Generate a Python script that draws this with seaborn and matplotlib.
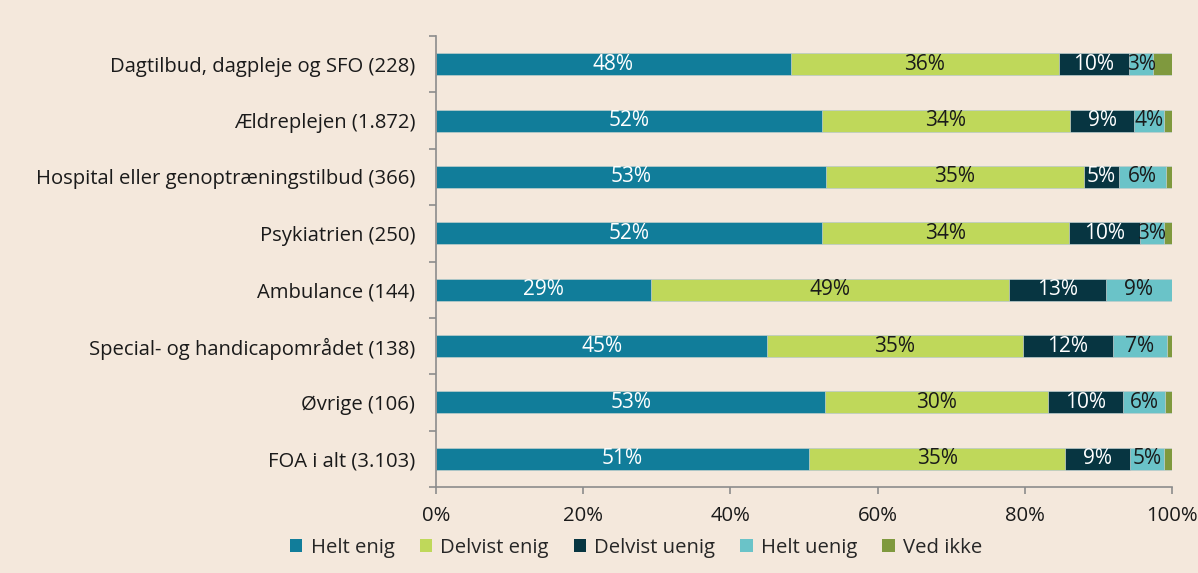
import numpy as np
import pandas as pd
import matplotlib
matplotlib.use("Agg")
import matplotlib.pyplot as plt
from matplotlib.patches import Patch
import seaborn as sns

categories = [
    "Dagtilbud, dagpleje og SFO (228)",
    "Ældreplejen (1.872)",
    "Hospital eller genoptræningstilbud (366)",
    "Psykiatrien (250)",
    "Ambulance (144)",
    "Special- og handicapområdet (138)",
    "Øvrige (106)",
    "FOA i alt (3.103)",
]
series_names = ["Helt enig", "Delvist enig", "Delvist uenig", "Helt uenig", "Ved ikke"]
helt_enig = [48.2, 52.4, 53.0, 52.4, 29.2, 45.0, 52.9, 50.7]
delvist_enig = [36.4, 33.7, 35.0, 33.6, 48.6, 34.7, 30.2, 34.8]
delvist_uenig = [9.6, 8.8, 4.8, 9.6, 13.2, 12.3, 10.3, 8.8]
helt_uenig = [3.2, 4.0, 6.4, 3.3, 9.0, 7.3, 5.7, 4.6]
ved_ikke = [2.6, 1.1, 0.8, 1.1, 0.0, 0.7, 0.9, 1.1]
x_ticks = [0, 20, 40, 60, 80, 100]

colors = ["#117d9a", "#bfd85a", "#073541", "#6ac3c8", "#7f993e"]
text_colors = ["white", "#1a1a1a", "white", "#1a1a1a", None]
bg = "#f4e8dc"
axis_gray = "#8c8c8c"

sns.set_theme(style="white")
plt.rcParams["font.family"] = ["Open Sans", "DejaVu Sans"]

values = np.array([helt_enig, delvist_enig, delvist_uenig, helt_uenig, ved_ikke])
cum = values.cumsum(axis=0)
df = pd.DataFrame({"category": categories})

fig = plt.figure(figsize=(11.98, 5.73), dpi=100, facecolor=bg)
ax = fig.add_axes([436 / 1198, 1 - 487 / 573, (1172 - 436) / 1198, (487 - 36) / 573])
ax.set_facecolor(bg)

# draw stacked bars as overlapping cumulative bars, widest first
for i in range(len(series_names) - 1, -1, -1):
    df["x"] = cum[i]
    sns.barplot(data=df, x="x", y="category", orient="h", color=colors[i],
                saturation=1, width=0.39, edgecolor="#c9d3d3", linewidth=0.5,
                ax=ax)

for i in range(len(series_names)):
    if text_colors[i] is None:
        continue
    for j in range(len(categories)):
        v = values[i, j]
        if v < 2.5:
            continue
        xc = cum[i, j] - v / 2
        ax.text(xc, j, f"{v:.0f}%", ha="center", va="center", fontsize=15,
                color=text_colors[i])

ax.set_xlim(0, 100)
ax.set_ylim(len(categories) - 0.5, -0.5)
ax.set_xticks(x_ticks)
ax.set_xticklabels([f"{t}%" for t in x_ticks])
ax.set_yticks(range(len(categories)))
ax.set_yticklabels(categories)
ax.set_yticks(np.arange(-0.5, len(categories), 1), minor=True)
ax.set_xlabel("")
ax.set_ylabel("")

for s in ["top", "right"]:
    ax.spines[s].set_visible(False)
for s in ["left", "bottom"]:
    ax.spines[s].set_color(axis_gray)
    ax.spines[s].set_linewidth(1.2)

ax.tick_params(axis="y", which="major", length=0, pad=15, labelsize=14.6, labelcolor="#1a1a1a")
ax.tick_params(axis="y", which="minor", length=5, width=1.2, color=axis_gray, direction="out", left=True)
ax.tick_params(axis="x", which="major", length=5, width=1.2, color=axis_gray, direction="out",
               bottom=True, pad=9, labelsize=14.6, labelcolor="#1a1a1a")

handles = [Patch(facecolor=c, edgecolor="none") for c in colors]
fig.legend(handles, series_names, loc="center", bbox_to_anchor=(0.531, 0.044), ncol=5,
           frameon=False, fontsize=14.6, handlelength=0.6, handleheight=0.6,
           handletextpad=0.4, columnspacing=1.25)

fig.savefig("out.png", dpi=100, facecolor=bg)
